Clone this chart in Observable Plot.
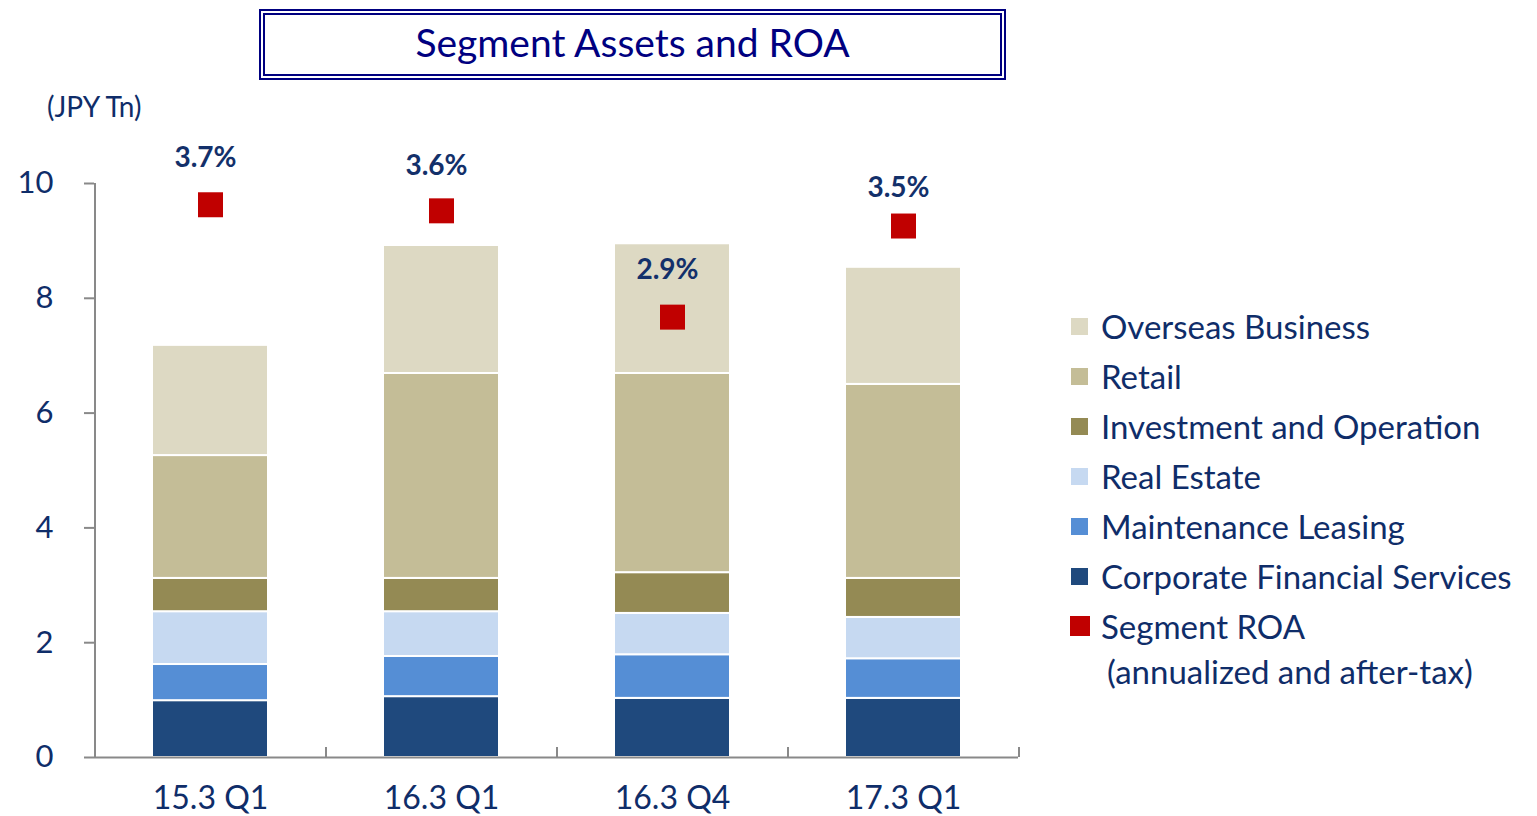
<!DOCTYPE html>
<html>
<head>
<meta charset="utf-8">
<script src="https://cdn.jsdelivr.net/npm/d3@7"></script>
<script src="https://cdn.jsdelivr.net/npm/@observablehq/plot@0.6"></script>
<style>
  html, body { margin: 0; padding: 0; background: #fff; }
  #wrap { position: relative; width: 1537px; height: 816px; font-family: Lato, "Open Sans", sans-serif; overflow: hidden; }
  #title { position: absolute; left: 259px; top: 9px; width: 735px; height: 59px; border: 6px double #000080; color: #000080; font-size: 39px; text-align: center; line-height: 55px; }
  #unit { position: absolute; left: 47px; top: 89px; font-size: 28px; color: #0f2d69; }
  #chart { position: absolute; left: 0; top: 0; }
  #legend { position: absolute; left: 1071px; top: 301px; color: #0f2d69; font-size: 33px; }
  .row { height: 50px; display: flex; align-items: center; white-space: nowrap; }
  .sw { width: 17px; height: 17px; margin-right: 13px; flex: none; }
  .sub { padding-left: 36px; margin-top: 0px; white-space: nowrap; }
</style>
</head>
<body>
<div id="wrap">
  <div id="chart"></div>
  <div id="title">Segment Assets and ROA</div>
  <div id="unit">(JPY Tn)</div>
  <div id="legend"></div>
</div>
<script>
// ---- data ----
const periods = ["15.3 Q1", "16.3 Q1", "16.3 Q4", "17.3 Q1"];
const segments = ["Corporate Financial Services", "Maintenance Leasing", "Real Estate", "Investment and Operation", "Retail", "Overseas Business"];
const segmentColors = ["#1f497d", "#558ed5", "#c6d9f1", "#948a54", "#c4bd97", "#ddd9c3"];
const corporateFinancial = [0.99, 1.06, 1.03, 1.03];
const maintenanceLeasing = [0.63, 0.70, 0.76, 0.69];
const realEstate = [0.92, 0.78, 0.72, 0.72];
const investmentOperation = [0.58, 0.58, 0.71, 0.68];
const retail = [2.14, 3.57, 3.47, 3.38];
const overseas = [1.92, 2.23, 2.26, 2.04];
const roa = [3.64, 3.60, 2.90, 3.50];
const roaLabels = ["3.7%", "3.6%", "2.9%", "3.5%"];
const yTicks = [0, 2, 4, 6, 8, 10];
const roaAxisMax = 3.78; // hidden secondary axis maximum (maps to 10 on primary)

const seriesValues = [corporateFinancial, maintenanceLeasing, realEstate, investmentOperation, retail, overseas];
const rows = [];
periods.forEach((p, i) => {
  segments.forEach((s, j) => rows.push({period: p, segment: s, value: seriesValues[j][i]}));
});
const roaRows = periods.map((p, i) => ({period: p, roa: roa[i], label: roaLabels[i], pos: roa[i] * 10 / roaAxisMax}));

const navy = "#0f2d69";
const grey = "#898989";
const labelStyle = {x: "period", y: "pos", text: "label", dx: -5, fontSize: 28, fontWeight: "bold", fill: "#13306a"};

const chart = Plot.plot({
  width: 1537,
  height: 816,
  marginLeft: 94,
  marginRight: 519,
  marginTop: 183,
  marginBottom: 59,
  style: {fontFamily: "Lato, 'Open Sans', sans-serif", background: "transparent"},
  x: {domain: periods, paddingInner: 0.5, paddingOuter: 0.25, label: null},
  y: {domain: [0, 10], label: null},
  color: {domain: segments, range: segmentColors},
  marks: [
    Plot.barY(rows, {x: "period", y: "value", fill: "segment", stroke: "white", strokeWidth: 2}),
    Plot.ruleY([0], {stroke: grey, strokeWidth: 2}),
    Plot.ruleX(periods, {x: d => d, y1: 0, y2: 0, dx: -115.5, insetTop: -10, stroke: grey, strokeWidth: 2}),
    Plot.ruleX(periods.slice(-1), {x: d => d, y1: 0, y2: 0, dx: 115.5, insetTop: -10, stroke: grey, strokeWidth: 2}),
    Plot.ruleX(periods.slice(0, 1), {x: d => d, y1: 0, y2: 10, dx: -115.5, stroke: grey, strokeWidth: 2}),
    Plot.axisY({ticks: yTicks, tickSize: 10, tickPadding: 31, fontSize: 31, color: navy, stroke: grey, strokeWidth: 2, label: null}),
    Plot.axisX({tickSize: 0, tickPadding: 29, fontSize: 32, color: navy, label: null}),
    Plot.dot(roaRows, {x: "period", y: "pos", symbol: "square", r: 14.1, fill: "#c00000", stroke: null}),
    Plot.text(roaRows.filter((d, i) => i === 0 || i === 2), {...labelStyle, dy: -47}),
    Plot.text(roaRows.filter((d, i) => i === 1), {...labelStyle, dy: -45}),
    Plot.text(roaRows.filter((d, i) => i === 3), {...labelStyle, dy: -38})
  ]
});
document.getElementById("chart").appendChild(chart);

// legend
const legendItems = segments.map((s, i) => ({label: s, color: segmentColors[i]})).reverse();
legendItems.push({label: "Segment ROA", color: "#c00000"});
const legend = document.getElementById("legend");
legendItems.forEach(it => {
  const row = document.createElement("div");
  row.className = "row";
  const sw = document.createElement("div");
  sw.className = "sw";
  sw.style.background = it.color;
  if (it.color === "#c00000") { sw.style.width = "20px"; sw.style.height = "20px"; sw.style.marginLeft = "-1px"; sw.style.marginRight = "11px"; }
  row.appendChild(sw);
  const t = document.createElement("span");
  t.textContent = it.label;
  row.appendChild(t);
  legend.appendChild(row);
});
const sub = document.createElement("div");
sub.className = "sub";
sub.textContent = "(annualized and after-tax)";
legend.appendChild(sub);
</script>
</body>
</html>
